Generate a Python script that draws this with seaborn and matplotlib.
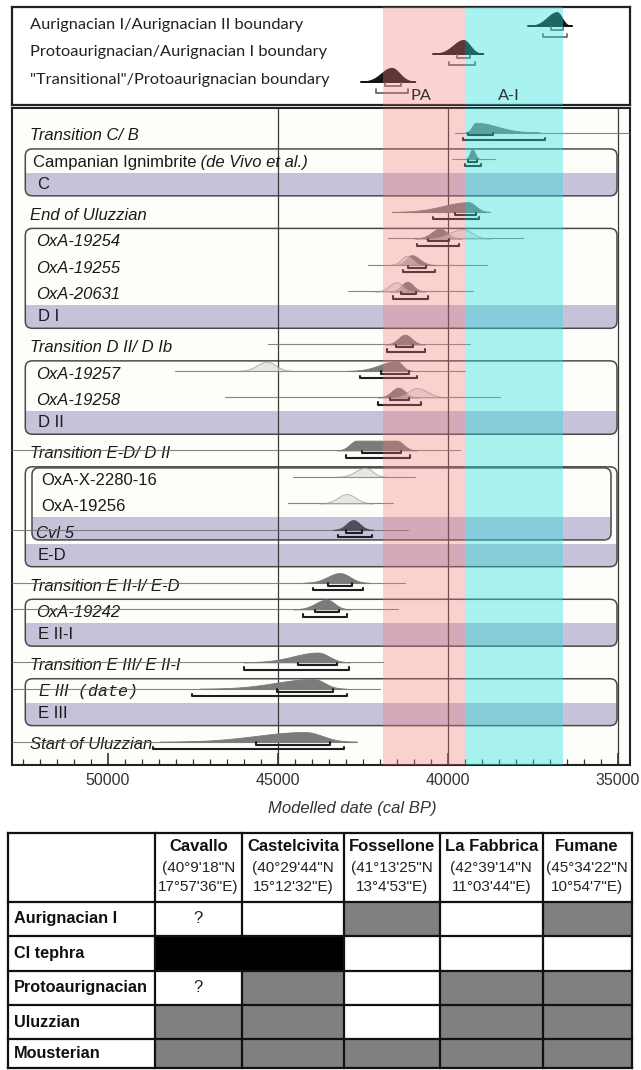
import numpy as np
import pandas as pd
import matplotlib
matplotlib.use("Agg")
import matplotlib.pyplot as plt
import seaborn as sns
from matplotlib import transforms
from matplotlib.patches import FancyBboxPatch, Rectangle
from matplotlib.colors import ListedColormap
from matplotlib.ticker import MultipleLocator

# ---------------- data ----------------
# boundary posteriors (cal BP)
boundary_labels = ["Aurignacian I/Aurignacian II boundary",
                   "Protoaurignacian/Aurignacian I boundary",
                   '"Transitional"/Protoaurignacian boundary']
boundary_old = [37640, 40440, 42560]
boundary_peak = [36790, 39540, 41650]
boundary_young = [36350, 38950, 40950]
boundary_r68_old = [36970, 39740, 41840]
boundary_r68_young = [36620, 39340, 41380]
boundary_r95_old = [37190, 39970, 42110]
boundary_r95_young = [36500, 39190, 41180]

# cultural spans
band_labels = ["PA", "A-I"]
band_old = [41890, 39480]
band_young = [39480, 36620]

# sequence rows, top to bottom
row_labels = ["Transition C/ B", "Campanian Ignimbrite", "C", "End of Uluzzian",
              "OxA-19254", "OxA-19255", "OxA-20631", "D I", "Transition D II/ D Ib",
              "OxA-19257", "OxA-19258", "D II", "Transition E-D/ D II",
              "OxA-X-2280-16", "OxA-19256", "Cvl 5", "E-D", "Transition E II-I/ E-D",
              "OxA-19242", "E II-I", "Transition E III/ E II-I", "E III",
              "E III ", "Start of Uluzzian"]
row_kinds = ["trans", "ci", "phase", "trans", "date", "date", "date", "phase", "trans",
             "date", "date", "phase", "trans", "plain", "plain", "date", "phase", "trans",
             "date", "phase", "trans", "e3", "phase", "trans"]

# modelled posteriors
dark_rows = ["Transition C/ B", "Campanian Ignimbrite", "End of Uluzzian", "OxA-19254",
             "OxA-19255", "OxA-20631", "Transition D II/ D Ib", "OxA-19257", "OxA-19258",
             "Transition E-D/ D II", "Cvl 5", "Transition E II-I/ E-D", "OxA-19242",
             "Transition E III/ E II-I", "E III", "Start of Uluzzian"]
dark_old = [39490, 39490, 41650, 40960, 41550, 41700, 41840, 42970, 42050,
            43270, 43370, 44250, 44540, 46010, 47290, 48460]
dark_peak = [39180, 39280, 39390, 40230, 41060, 41190, 41260, 41500, 41450,
             42680, 42780, 43170, 43560, 43810, 43950, 44200]
dark_plateau = [0, 0, 0, 0, 0, 0, 0, 0, 0, 1180, 0, 0, 0, 0, 0, 0]
dark_young = [37290, 39030, 38760, 39590, 40370, 40670, 40670, 41020, 40870,
              40910, 42190, 42290, 42870, 42870, 42970, 42680]
r68_old = [39410, 39390, 39790, 40570, 41160, 41370, 41530, 41960, 41700,
           42530, 43000, 43530, 43900, 44390, 45010, 45640]
r68_young = [38680, 39150, 39180, 39960, 40650, 40930, 41010, 41140, 41130,
             41380, 42530, 42810, 43190, 43250, 43370, 43460]
r95_old = [39540, 39490, 40420, 40890, 41320, 41600, 41790, 42580, 42040,
           42990, 43240, 43970, 44250, 45980, 47530, 48670]
r95_young = [37140, 39030, 39080, 39670, 40370, 40590, 40670, 40910, 40790,
             41110, 42240, 42480, 42950, 42890, 42970, 43040]

# unmodelled likelihoods
light_rows = ["OxA-19254", "OxA-19255", "OxA-20631", "OxA-19257", "OxA-19258",
              "OxA-X-2280-16", "OxA-19256"]
light_old = [40700, 41700, 42140, 46170, 41700, 43265, 43760]
light_peak = [39550, 41190, 41500, 45320, 40910, 42430, 42970]
light_young = [38760, 40670, 40960, 44550, 39970, 41790, 42190]

# prior spans drawn as thin lines
prior_rows = ["Transition C/ B", "Campanian Ignimbrite", "End of Uluzzian", "OxA-19254",
              "OxA-19255", "OxA-20631", "Transition D II/ D Ib", "OxA-19257", "OxA-19258",
              "Transition E-D/ D II", "OxA-X-2280-16", "OxA-19256", "Cvl 5",
              "Transition E II-I/ E-D", "OxA-19242", "Transition E III/ E II-I", "E III",
              "Start of Uluzzian"]
prior_old = [39790, 39880, 41650, 41750, 42340, 42920, 45280, 48020, 46550,
             53500, 44540, 44690, 53500, 53500, 53500, 53500, 53500, 53500]
prior_young = [34670, 38610, 38760, 37780, 38850, 39250, 39340, 39490, 38460,
               39640, 40960, 41600, 41160, 41260, 41470, 41890, 41990, 42680]

# phase boxes (first row, last row)
box_first = ["Campanian Ignimbrite", "OxA-19254", "OxA-19257", "OxA-X-2280-16",
             "OxA-19242", "E III"]
box_last = ["C", "D I", "D II", "E-D", "E II-I", "E III "]

# site table
sites = ["Cavallo", "Castelcivita", "Fossellone", "La Fabbrica", "Fumane"]
site_lat = ["(40°9'18\"N", "(40°29'44\"N", "(41°13'25\"N", "(42°39'14\"N", "(45°34'22\"N"]
site_lon = ["17°57'36\"E)", "15°12'32\"E)", "13°4'53\"E)", "11°03'44\"E)", "10°54'7\"E)"]
table_rows = ["Aurignacian I", "CI tephra", "Protoaurignacian", "Uluzzian", "Mousterian"]
presence = [[0, 0, 1, 0, 1],
            [2, 2, 0, 0, 0],
            [0, 1, 0, 1, 1],
            [1, 1, 0, 1, 1],
            [1, 1, 1, 1, 1]]
uncertain = [["?", "", "", "", ""],
             ["", "", "", "", ""],
             ["?", "", "", "", ""],
             ["", "", "", "", ""],
             ["", "", "", "", ""]]

# ---------------- layout helpers ----------------
W, H = 641, 1070
X45_PX, PX_PER_YEAR = 277.7, 0.034
SLOT0_PX, SLOT_PX = 135.7, 26.49
TOP0_PX, TOP_STEP = 26.0, 27.85
AX_L, AX_R = 12.3, 629.6


def px2date(px):
    return 45000 - (px - X45_PX) / PX_PER_YEAR


def fig_rect(x0, y0, x1, y1):
    return [x0 / W, 1 - y1 / H, (x1 - x0) / W, (y1 - y0) / H]


def ax_frac(px):
    return (px - AX_L) / (AX_R - AX_L)


def density(t, old, peak_old, peak_young, young):
    d = np.ones_like(t)
    s_old = max(old - peak_old, 1) / 3.0
    s_young = max(peak_young - young, 1) / 3.0
    m = t > peak_old
    d[m] = np.exp(-0.5 * ((t[m] - peak_old) / s_old) ** 2)
    m = t < peak_young
    d[m] = np.exp(-0.5 * ((peak_young - t[m]) / s_young) ** 2)
    return d


sns.set_theme(style="white")
plt.rcParams["font.family"] = ["Liberation Sans", "DejaVu Sans"]

PINK = (242 / 255, 121 / 255, 121 / 255)
CYAN = (38 / 255, 223 / 255, 223 / 255)
PURPLE = "#c6c2da"
BG = "#fdfdf9"

fig = plt.figure(figsize=(W / 100, H / 100), dpi=100)
fig.patch.set_facecolor("white")

xlim = (px2date(AX_L), px2date(AX_R))

# ---------------- boundary panel ----------------
axt = fig.add_axes(fig_rect(AX_L, 6.5, AX_R, 105))
axt.set_facecolor("white")
for s in axt.spines.values():
    s.set_color("#222222")
    s.set_linewidth(1.6)
tblend = transforms.blended_transform_factory(axt.transAxes, axt.transData)

bracket_segments = []
for i, lab in enumerate(boundary_labels):
    t = np.linspace(boundary_young[i], boundary_old[i], 400)
    d = density(t, boundary_old[i], boundary_peak[i], boundary_peak[i], boundary_young[i])
    axt.fill_between(t, i, i - 0.5 * d, color="#161616", lw=0.6, zorder=4)
    axt.plot([boundary_old[i], boundary_young[i]], [i, i], color="#111111", lw=1.4, zorder=4)
    axt.text(ax_frac(30), i - 0.05, lab, transform=tblend, ha="left", va="center",
             fontsize=11.8, family=["Lato", "DejaVu Sans"], color="#222222", zorder=6)
    for k, (o, y_, off) in enumerate([(boundary_r68_old[i], boundary_r68_young[i], 0.16),
                                      (boundary_r95_old[i], boundary_r95_young[i], 0.39)]):
        yb = i + off
        bracket_segments.append(pd.DataFrame({"date": [o, o, y_, y_],
                                              "row": [yb - 0.11, yb, yb, yb - 0.11],
                                              "seg": f"b{i}{k}"}))
bdf = pd.concat(bracket_segments, ignore_index=True)
sns.lineplot(data=bdf, x="date", y="row", units="seg", estimator=None, sort=False,
             color="#6a6a6a", lw=1.3, ax=axt, legend=False, zorder=5)
axt.set_xlabel("")
axt.set_ylabel("")
axt.set_xticks([])
axt.set_yticks([])
axt.set_xlim(*xlim)
axt.set_ylim((105 - TOP0_PX) / TOP_STEP, (6.5 - TOP0_PX) / TOP_STEP)

for lab, x_px in zip(band_labels, [420.5, 509]):
    axt.text(px2date(x_px), (96 - TOP0_PX) / TOP_STEP, lab, ha="center", va="center",
             fontsize=11.8, family=["Lato", "DejaVu Sans"], color="#333333", zorder=9)

# ---------------- sequence panel ----------------
ax = fig.add_axes(fig_rect(AX_L, 107.7, AX_R, 765))
ax.set_facecolor(BG)
slot = {lab: i for i, lab in enumerate(row_labels)}
blend = transforms.blended_transform_factory(ax.transAxes, ax.transData)
aspect = (AX_R - AX_L) / SLOT_PX
rnd = 7.0 / (AX_R - AX_L)


def rounded_box(x0_px, x1_px, top, bottom, z):
    x0, x1 = ax_frac(x0_px), ax_frac(x1_px)
    fill = FancyBboxPatch((x0, top), x1 - x0, bottom - top,
                          boxstyle=f"round,pad=0,rounding_size={rnd}", mutation_aspect=aspect,
                          transform=blend, facecolor=BG, edgecolor="none", zorder=z)
    ax.add_patch(fill)
    edge = FancyBboxPatch((x0, top), x1 - x0, bottom - top,
                          boxstyle=f"round,pad=0,rounding_size={rnd}", mutation_aspect=aspect,
                          transform=blend, facecolor="none", edgecolor="#4a4a4a", lw=1.1,
                          zorder=z + 0.4)
    ax.add_patch(edge)
    return fill


for first, last in zip(box_first, box_last):
    top, bottom = slot[first] - 0.5, slot[last] + 0.27
    clip = rounded_box(25.3, 617, top, bottom, 1.0)
    band = Rectangle((0, slot[last] - 0.6), 1, 0.87, transform=blend,
                     facecolor=PURPLE, edgecolor="none", zorder=1.2)
    ax.add_patch(band)
    band.set_clip_path(clip)

# inner box for Cvl 5 within E-D
top, bottom = slot["OxA-X-2280-16"] - 0.46, slot["Cvl 5"] + 0.26
clip = rounded_box(32, 611, top, bottom, 1.6)
band = Rectangle((0, slot["Cvl 5"] - 0.62), 1, 0.88, transform=blend,
                 facecolor=PURPLE, edgecolor="none", zorder=1.8)
ax.add_patch(band)
band.set_clip_path(clip)

for d_ in (45000, 40000, 35000):
    ax.axvline(d_, color="#3a3a3a", lw=0.9, zorder=2.5)

# prior spans
BASE = -0.12
pdf = pd.DataFrame({
    "date": [v for o, y_ in zip(prior_old, prior_young) for v in (o, y_)],
    "row": [slot[r] + BASE for r in prior_rows for _ in (0, 1)],
    "seg": [r for r in prior_rows for _ in (0, 1)],
})
sns.lineplot(data=pdf, x="date", y="row", units="seg", estimator=None, sort=False,
             color="#707070", lw=0.8, alpha=0.85, ax=ax, legend=False, zorder=3.5)

# posterior and likelihood curves
HGT = 0.37
for r, o, p, pl, y_ in zip(dark_rows, dark_old, dark_peak, dark_plateau, dark_young):
    b = slot[r] + BASE
    t = np.linspace(y_, o, 500)
    d = density(t, o, p, p - pl, y_)
    col = "#4e4e5c" if r == "Cvl 5" else "#7b7b7b"
    ax.fill_between(t, b, b - HGT * d, color=col, lw=0.6, zorder=4)
for r, o, p, y_ in zip(light_rows, light_old, light_peak, light_young):
    b = slot[r] + BASE
    t = np.linspace(y_, o, 500)
    d = density(t, o, p, p, y_)
    ax.fill_between(t, b, b - HGT * 0.95 * d, facecolor="#d8d8d8", edgecolor="#8a8a8a",
                    alpha=0.6, lw=0.7, zorder=4.2)

# probability ranges
segs = []
for r, a68, b68, a95, b95 in zip(dark_rows, r68_old, r68_young, r95_old, r95_young):
    b = slot[r] + BASE
    for k, (o, y_, off) in enumerate([(a68, b68, 0.11), (a95, b95, 0.28)]):
        yb = b + off
        segs.append(pd.DataFrame({"date": [o, o, y_, y_],
                                  "row": [yb - 0.09, yb, yb, yb - 0.09],
                                  "seg": f"{r}{k}"}))
rdf = pd.concat(segs, ignore_index=True)
sns.lineplot(data=rdf, x="date", y="row", units="seg", estimator=None, sort=False,
             color="#1e1e1e", lw=1.5, ax=ax, legend=False, zorder=5)

# row labels
label_x = {"trans": 29.5, "date": 36, "plain": 41, "phase": 37.5, "ci": 32.7, "e3": 38.8}
for lab, kind in zip(row_labels, row_kinds):
    y = slot[lab]
    x = ax_frac(label_x[kind])
    if kind == "phase":
        ax.text(x, y - 0.17, lab.strip(), transform=blend, ha="left", va="center",
                fontsize=12, color="#1a1a1a", zorder=3)
    elif kind == "ci":
        t1 = ax.text(x, y, lab, transform=blend, ha="left", va="center",
                     fontsize=12, color="#1a1a1a", zorder=3)
        ax.annotate(" (de Vivo et al.)", xy=(1, 0), xycoords=t1, ha="left", va="bottom",
                    fontsize=12, style="italic", color="#1a1a1a", zorder=3)
    elif kind == "e3":
        t1 = ax.text(x, y, lab, transform=blend, ha="left", va="center",
                     fontsize=12, style="italic", color="#1a1a1a", zorder=3)
        ax.annotate(" (date)", xy=(1, 0), xycoords=t1, ha="left", va="bottom",
                    fontsize=12, style="italic", family=["Liberation Mono", "DejaVu Sans Mono"],
                    color="#1a1a1a", zorder=3)
    else:
        ax.text(x, y, lab, transform=blend, ha="left", va="center", fontsize=12,
                style="normal" if kind == "plain" else "italic", color="#1a1a1a", zorder=3)

ax.set_xlim(*xlim)
ax.set_ylim((765 - SLOT0_PX) / SLOT_PX, (107.7 - SLOT0_PX) / SLOT_PX)
ax.set_xlabel("")
ax.set_ylabel("")
ax.set_yticks([])
ax.set_xticks([50000, 45000, 40000, 35000])
ax.set_xticklabels(["50000", "45000", "40000", "35000"])
ax.xaxis.set_minor_locator(MultipleLocator(500))
ax.tick_params(axis="x", which="major", direction="in", length=9, width=1.2,
               labelsize=11.5, pad=6, colors="#333333", bottom=True, top=False)
ax.tick_params(axis="x", which="minor", direction="in", length=4.5, width=0.9,
               bottom=True, top=False, color="#333333")
for s in ax.spines.values():
    s.set_color("#222222")
    s.set_linewidth(1.5)

# cultural spans overlaid on both panels
for a in (axt, ax):
    for o, y_, col, al in zip(band_old, band_young, [PINK, CYAN], [0.33, 0.40]):
        a.axvspan(o, y_, color=col, alpha=al, lw=0, zorder=8)

fig.text(352 / W, 1 - 809 / H, "Modelled date (cal BP)", ha="center", va="center",
         fontsize=12, style="italic", color="#333333")

# ---------------- site table ----------------
col_edges = [8, 154.5, 242, 344, 440, 542.5, 631.6]
row_edges = [833, 901.7, 936.2, 970.7, 1005, 1039.3, 1068]
axb = fig.add_axes(fig_rect(0, 825, W, H))
grid = np.zeros((len(table_rows) + 1, len(sites) + 1))
grid[1:, 1:] = np.array(presence)
axb.pcolormesh(col_edges, row_edges, grid,
               cmap=ListedColormap(["white", "#808080", "black"]), vmin=-0.5, vmax=2.5,
               edgecolors="none", linewidth=0)
# cell borders; adjacent black cells form one merged cell
for i in range(grid.shape[0]):
    for j in range(1, grid.shape[1]):
        if grid[i, j - 1] == 2 and grid[i, j] == 2:
            continue
        axb.plot([col_edges[j], col_edges[j]], [row_edges[i], row_edges[i + 1]],
                 color="#111111", lw=1.6, solid_capstyle="projecting")
for i in range(len(row_edges)):
    axb.plot([col_edges[0], col_edges[-1]], [row_edges[i], row_edges[i]],
             color="#111111", lw=1.6, solid_capstyle="projecting")
for x_ in (col_edges[0], col_edges[-1]):
    axb.plot([x_, x_], [row_edges[0], row_edges[-1]], color="#111111", lw=1.6,
             solid_capstyle="projecting")
axb.set_xlim(0, W)
axb.set_ylim(H, 825)
axb.axis("off")
for j, site in enumerate(sites):
    cx = (col_edges[j + 1] + col_edges[j + 2]) / 2
    axb.text(cx, 846.7, site, ha="center", va="center", fontsize=12, weight="bold", color="#111111")
    axb.text(cx, 868.3, site_lat[j], ha="center", va="center", fontsize=11, color="#222222")
    axb.text(cx, 887.3, site_lon[j], ha="center", va="center", fontsize=11, color="#222222")
for i, lab in enumerate(table_rows):
    cy = (row_edges[i + 1] + row_edges[i + 2]) / 2
    axb.text(14.3, cy, lab, ha="left", va="center", fontsize=11.7, weight="bold", color="#111111")
    for j in range(len(sites)):
        if uncertain[i][j]:
            cx = (col_edges[j + 1] + col_edges[j + 2]) / 2
            axb.text(cx, cy, uncertain[i][j], ha="center", va="center", fontsize=12, color="#222222")

fig.savefig("out.png", dpi=100)
